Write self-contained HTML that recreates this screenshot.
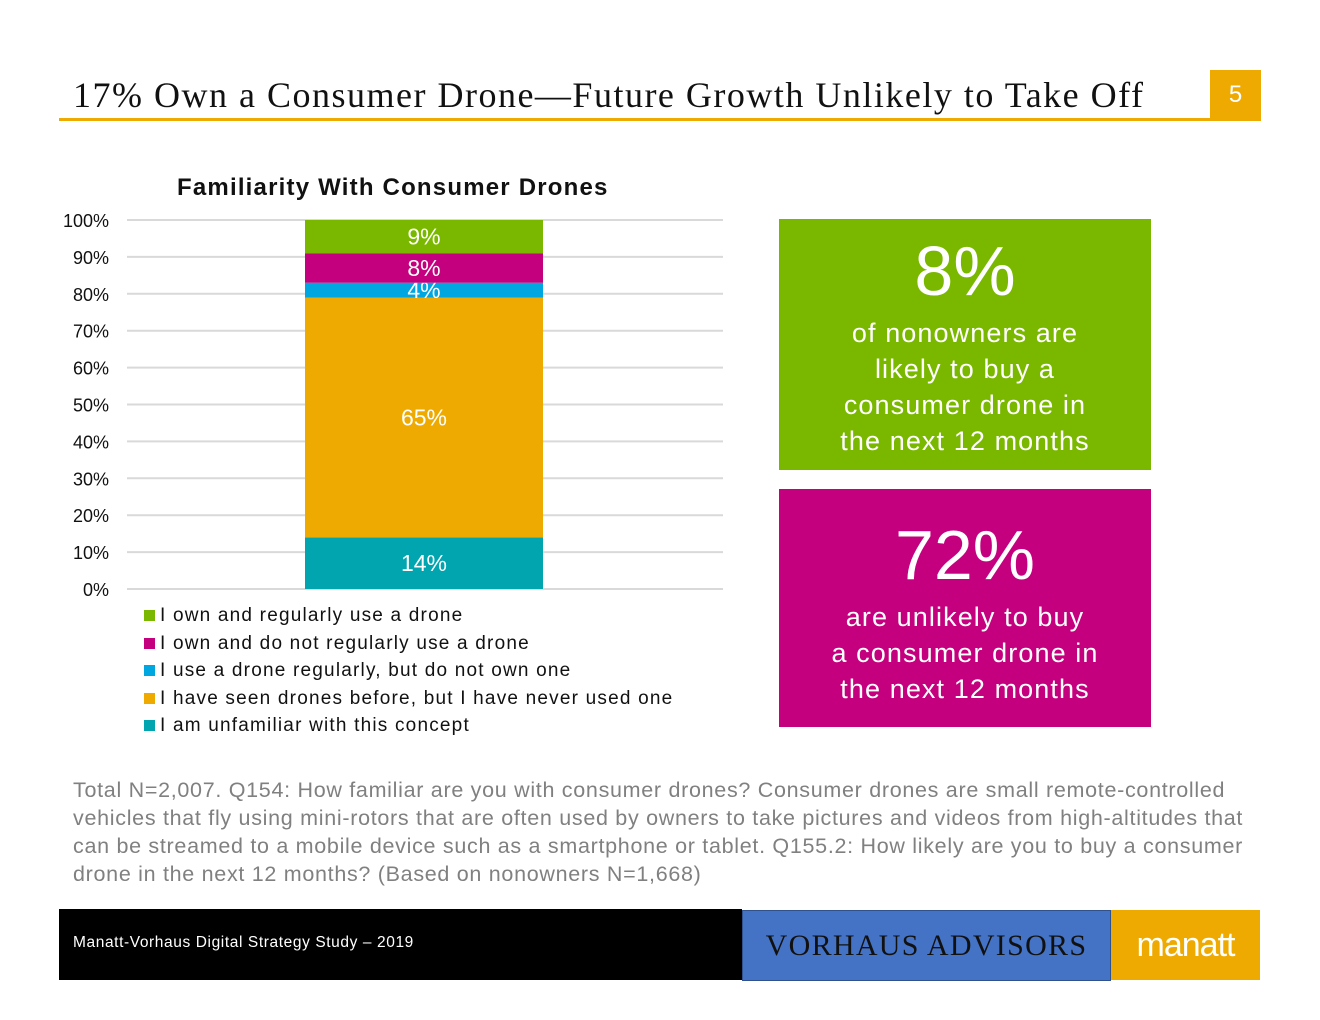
<!DOCTYPE html>
<html><head><meta charset="utf-8"><style>
body{margin:0;width:1320px;height:1020px;background:#fff;position:relative;font-family:"Liberation Sans",sans-serif;overflow:hidden}
.abs{position:absolute}
.leg{position:absolute;left:144px;font-size:19px;color:#111;letter-spacing:1.2px}
.leg span{display:inline-block;width:11px;height:11px;margin-right:5px}
</style></head><body>
<div class="abs" style="left:73px;top:74px;font-family:'Liberation Serif',serif;font-size:36px;color:#111;letter-spacing:1.5px;white-space:nowrap">17% Own a Consumer Drone—Future Growth Unlikely to Take Off</div>
<div class="abs" style="left:59px;top:118px;width:1202px;height:3px;background:#EEAA00"></div>
<div class="abs" style="left:1210px;top:70px;width:51px;height:51px;background:#EEAA00;color:#fff;font-size:24px;text-align:center;line-height:50px">5</div>
<div class="abs" style="left:177px;top:174px;font-size:24px;font-weight:bold;color:#111;letter-spacing:1.2px">Familiarity With Consumer Drones</div>
<svg class="abs" style="left:0;top:0" width="760" height="610" id="chart"></svg>
<div class="leg" style="top:605px"><span style="background:#7AB800"></span>I own and regularly use a drone</div>
<div class="leg" style="top:633px"><span style="background:#C4007E"></span>I own and do not regularly use a drone</div>
<div class="leg" style="top:660px"><span style="background:#00A6E0"></span>I use a drone regularly, but do not own one</div>
<div class="leg" style="top:688px"><span style="background:#EEAA00"></span>I have seen drones before, but I have never used one</div>
<div class="leg" style="top:715px"><span style="background:#00A5B0"></span>I am unfamiliar with this concept</div>
<div class="abs" style="left:779px;top:219px;width:372px;height:251px;background:#7AB800;color:#fff;text-align:center">
<div style="font-size:70px;margin-top:12px;line-height:80px">8%</div>
<div style="font-size:27px;line-height:36px;letter-spacing:1.1px;margin-top:4px">of nonowners are<br>likely to buy a<br>consumer drone in<br>the next 12 months</div></div>
<div class="abs" style="left:779px;top:489px;width:372px;height:238px;background:#C4007E;color:#fff;text-align:center">
<div style="font-size:70px;margin-top:26px;line-height:80px">72%</div>
<div style="font-size:27px;line-height:36px;letter-spacing:1.1px;margin-top:4px">are unlikely to buy<br>a consumer drone in<br>the next 12 months</div></div>
<div class="abs" style="left:73px;top:776px;width:1180px;font-size:21.5px;line-height:28px;color:#808080;letter-spacing:0.7px">Total N=2,007. Q154: How familiar are you with consumer drones? Consumer drones are small remote-controlled vehicles that fly using mini-rotors that are often used by owners to take pictures and videos from high-altitudes that can be streamed to a mobile device such as a smartphone or tablet. Q155.2: How likely are you to buy a consumer drone in the next 12 months? (Based on nonowners N=1,668)</div>
<div class="abs" style="left:59px;top:909px;width:683px;height:71px;background:#000"></div>
<div class="abs" style="left:73px;top:934px;font-size:15.5px;color:#fff;letter-spacing:0.6px">Manatt-Vorhaus Digital Strategy Study – 2019</div>
<div class="abs" style="left:742px;top:910px;width:367px;height:69px;background:#4472C4;border:1px solid #2F528F;color:#111;font-family:'Liberation Serif',serif;font-size:30px;text-align:center;line-height:70px;letter-spacing:1.3px">VORHAUS ADVISORS</div>
<div class="abs" style="left:1111px;top:910px;width:149px;height:70px;background:#EEAA00;color:#fff;font-size:34px;text-align:center;line-height:70px;letter-spacing:-1px">manatt</div>
<script>
const ticks=[0,10,20,30,40,50,60,70,80,90,100];
const categories=["I am unfamiliar with this concept","I have seen drones before, but I have never used one","I use a drone regularly, but do not own one","I own and do not regularly use a drone","I own and regularly use a drone"];
const values=[14,65,4,8,9];
const colors=["#00A5B0","#EEAA00","#00A6E0","#C4007E","#7AB800"];
const svg=document.getElementById('chart');const NS='http://www.w3.org/2000/svg';
const y=v=>589-v/100*369;
function mk(t,a){const e=document.createElementNS(NS,t);for(const k in a)e.setAttribute(k,a[k]);svg.appendChild(e);return e;}
ticks.forEach(t=>{
const l=mk('line',{x1:127,x2:723,y1:y(t),y2:y(t),stroke:'#d9d9d9','stroke-width':2});


const tx=mk('text',{x:109,y:y(t)+7,'text-anchor':'end','font-size':18,fill:'#111','font-family':'Liberation Sans, sans-serif'});
tx.textContent=t+'%';


});
let c=0;
values.forEach((v,i)=>{
const r=mk('rect',{x:305,width:238,y:y(c+v),height:y(c)-y(c+v),fill:colors[i]});


const tx=mk('text',{x:424,y:(y(c)+y(c+v))/2+8,'text-anchor':'middle','font-size':23,fill:'#fff','font-family':'Liberation Sans, sans-serif'});
tx.textContent=v+'%';


c+=v;
});
</script>
</body></html>
